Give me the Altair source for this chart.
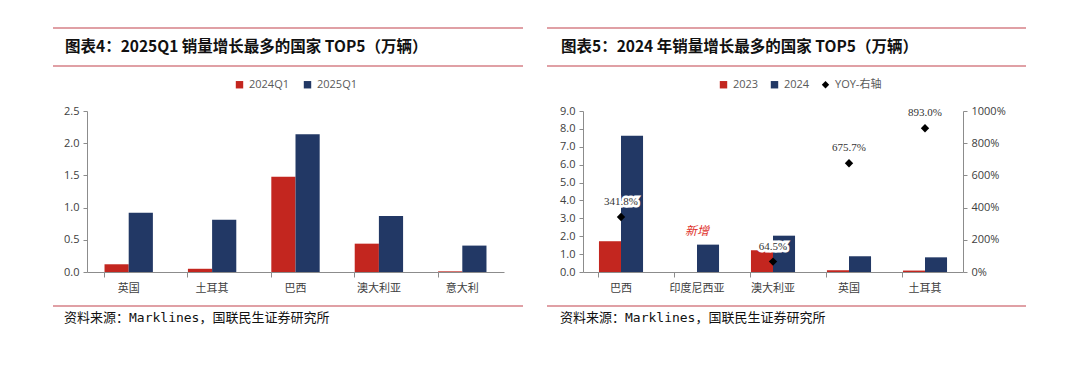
import altair as alt
import pandas as pd

# ---------------- data ----------------
cats1 = ["英国", "土耳其", "巴西", "澳大利亚", "意大利"]
q1_2024 = [0.12, 0.05, 1.48, 0.44, 0.01]
q1_2025 = [0.92, 0.81, 2.14, 0.87, 0.41]
series1 = ["2024Q1", "2025Q1"]

cats2 = ["巴西", "印度尼西亚", "澳大利亚", "英国", "土耳其"]
y2023 = [1.72, 0.0, 1.22, 0.10, 0.08]
y2024 = [7.62, 1.53, 2.03, 0.88, 0.82]
yoy = [341.8, None, 64.5, 675.7, 893.0]
series2 = ["2023", "2024", "YOY-右轴"]
note_cat = ["印度尼西亚"]
note_val = [2.28]
note_txt = ["新增"]

title1 = "图表4：2025Q1 销量增长最多的国家 TOP5（万辆）"
title2 = "图表5：2024 年销量增长最多的国家 TOP5（万辆）"
source = "资料来源：Marklines，国联民生证券研究所"

RED = "#C3261F"
NAVY = "#223865"
RULE = "#E0A0A5"
AX = "#8C8C8C"
LBL = "#404040"
FONT = "Open Sans, Noto Sans CJK SC"

df1 = pd.DataFrame(
    [{"country": c, "series": series1[0], "value": v} for c, v in zip(cats1, q1_2024)]
    + [{"country": c, "series": series1[1], "value": v} for c, v in zip(cats1, q1_2025)]
)
df2 = pd.DataFrame(
    [{"country": c, "series": series2[0], "value": v} for c, v in zip(cats2, y2023)]
    + [{"country": c, "series": series2[1], "value": v} for c, v in zip(cats2, y2024)]
)
df2y = pd.DataFrame({"country": cats2, "yoy": yoy, "series": series2[2]})
df2n = pd.DataFrame({"country": note_cat, "value": note_val, "t": note_txt})


def decorations(title, x0, x1, tx):
    rules = [
        alt.Chart(pd.DataFrame({"a": [0]})).mark_rule(color=RULE, strokeWidth=2).encode(
            x=alt.value(x0), x2=alt.value(x1), y=alt.value(yy)
        )
        for yy in (-83, -45, 195)
    ]
    t = alt.Chart(pd.DataFrame({"t": [title]})).mark_text(
        align="left", baseline="middle", font="Noto Sans CJK SC", fontWeight="bold",
        fontSize=15.5, color="#111111"
    ).encode(text="t:N", x=alt.value(tx), y=alt.value(-64))
    s = alt.Chart(pd.DataFrame({"t": [source]})).mark_text(
        align="left", baseline="middle", font="DejaVu Sans Mono, Noto Sans CJK SC",
        fontSize=13, color="#111111"
    ).encode(text="t:N", x=alt.value(tx - 1), y=alt.value(207))
    return rules + [t, s]


xaxis = dict(title=None, labelAngle=0, labelFont=FONT, labelFontSize=11, labelColor=LBL,
             domainColor=AX, tickColor=AX, tickSize=5, bandPosition=0, labelPadding=5)

# ---------------- left panel ----------------
W1, H1 = 417, 161
bars1 = alt.Chart(df1).mark_bar().encode(
    x=alt.X("country:N", sort=cats1, scale=alt.Scale(paddingInner=0.42, paddingOuter=0.21),
            axis=alt.Axis(**xaxis)),
    xOffset=alt.XOffset("series:N", sort=series1, scale=alt.Scale(paddingInner=0, paddingOuter=0)),
    y=alt.Y("value:Q", scale=alt.Scale(domain=[0, 2.5]),
            axis=alt.Axis(title=None, values=[0, 0.5, 1, 1.5, 2, 2.5], format=".1f",
                          labelFont=FONT, labelFontSize=11, labelColor=LBL, grid=False,
                          domainColor=AX, tickColor=AX, tickSize=4, labelPadding=4,
                          labelOverlap=False)),
    color=alt.Color("series:N", sort=series1,
                    scale=alt.Scale(domain=series1, range=[RED, NAVY]),
                    legend=alt.Legend(title=None, orient="none", direction="horizontal",
                                      legendX=147, legendY=-32, symbolType="square",
                                      symbolSize=55, labelFont=FONT, labelFontSize=11,
                                      labelColor="#595959", columnPadding=12)),
)
left = alt.layer(bars1, *decorations(title1, -34, 436, -22)).properties(width=W1, height=H1)

# ---------------- right panel ----------------
W2, H2 = 380, 161
xs2 = alt.X("country:N", sort=cats2, scale=alt.Scale(paddingInner=0.42, paddingOuter=0.21),
            axis=alt.Axis(**xaxis))
yl2 = alt.Y("value:Q", scale=alt.Scale(domain=[0, 9]),
            axis=alt.Axis(title=None, values=list(range(10)), format=".1f",
                          labelFont=FONT, labelFontSize=11, labelColor=LBL, grid=False,
                          domainColor=AX, tickColor=AX, tickSize=4, labelPadding=4,
                          labelOverlap=False))
bars2 = alt.Chart(df2).mark_bar().encode(
    x=xs2,
    xOffset=alt.XOffset("series:N", sort=series2[:2], scale=alt.Scale(paddingInner=0, paddingOuter=0)),
    y=yl2,
    color=alt.Color("series:N", scale=alt.Scale(domain=series2, range=[RED, NAVY, "#000000"]),
                    legend=alt.Legend(title=None, orient="none", direction="horizontal",
                                      legendX=135, legendY=-32, symbolSize=55,
                                      labelFont=FONT, labelFontSize=11, labelColor="#595959",
                                      columnPadding=10)),
)
note = alt.Chart(df2n).mark_text(
    color="#E0302A", font="Liberation Serif, Noto Sans CJK SC", fontSize=12, fontStyle="italic"
).encode(x=alt.X("country:N", sort=cats2), y=yl2, text="t:N")
left_group = alt.layer(bars2, note)

yy = alt.Y("yoy:Q", scale=alt.Scale(domain=[0, 1000]),
           axis=alt.Axis(title=None, orient="right", values=[0, 200, 400, 600, 800, 1000],
                         labelExpr="datum.value + '%'", labelFont=FONT, labelFontSize=11,
                         labelColor=LBL, grid=False, domainColor=AX, tickColor=AX,
                         tickSize=4, labelPadding=4, labelOverlap=False))
lab_base = alt.Chart(df2y).transform_filter("isValid(datum.yoy)").transform_calculate(
    lab="format(datum.yoy, '.1f') + '%'"
)
ylab_bg = lab_base.mark_text(font="Liberation Serif", fontSize=11, color="white",
                             stroke="white", strokeWidth=5, dy=-15).encode(
    x=alt.X("country:N", sort=cats2), y=yy, text="lab:N"
)
ylab = lab_base.mark_text(font="Liberation Serif", fontSize=11, color="#333333", dy=-15).encode(
    x=alt.X("country:N", sort=cats2), y=yy, text="lab:N"
)
pts = alt.Chart(df2y).transform_filter("isValid(datum.yoy)").mark_point(
    filled=True, size=70, opacity=1
).encode(
    x=alt.X("country:N", sort=cats2), y=yy,
    color=alt.Color("series:N", scale=alt.Scale(domain=series2, range=[RED, NAVY, "#000000"])),
    shape=alt.Shape("series:N", scale=alt.Scale(domain=series2, range=["square", "square", "diamond"])),
)
yoy_layer = alt.layer(pts, ylab_bg, ylab)
right = alt.layer(left_group, yoy_layer, *decorations(title2, -36, 443, -22)).resolve_scale(
    y="independent").properties(width=W2, height=H2)

chart = alt.hconcat(left, right, spacing=79, bounds="flush").resolve_scale(
    color="independent", shape="independent", x="independent", y="independent",
    xOffset="independent"
).resolve_legend(color="independent", shape="independent").configure_view(
    stroke=None).properties(padding={"left": 44, "top": 19, "right": 5, "bottom": 5})

chart.save("out.html", embed_options={"renderer": "svg", "actions": False})
